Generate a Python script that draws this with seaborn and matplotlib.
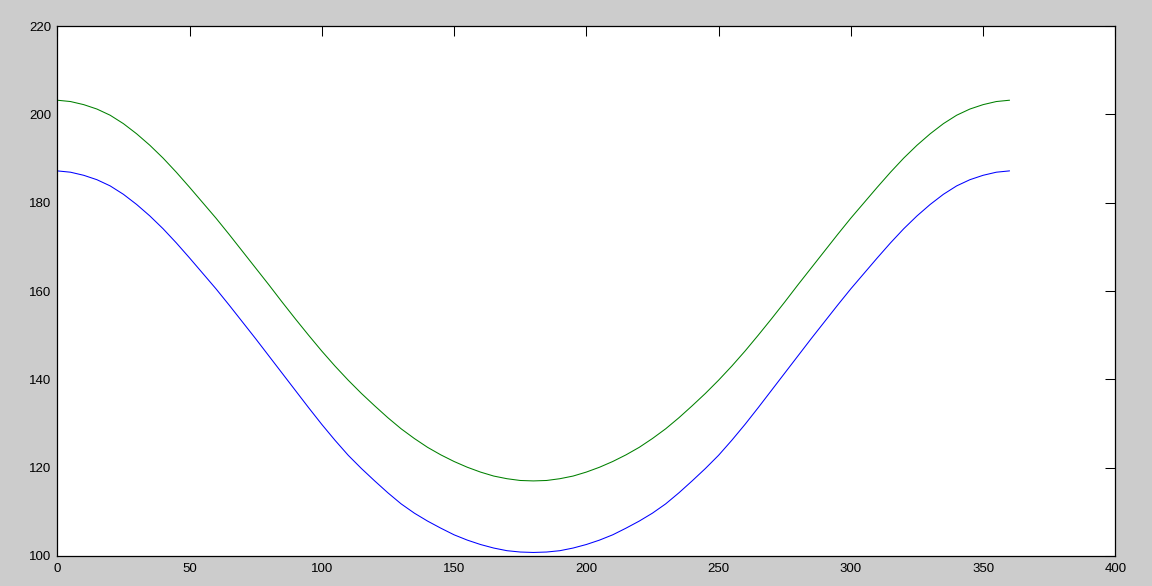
import numpy as np
import matplotlib
matplotlib.use("Agg")
import matplotlib.pyplot as plt
import seaborn as sns
import pandas as pd

# angulos (grados) y valores
angulos = list(range(0, 361, 5))
azul = [187.2, 186.9, 186.2, 185.2, 183.8, 181.9, 179.6, 177.0, 174.1, 170.9,
        167.5, 164.0, 160.5, 156.8, 153.0, 149.2, 145.3, 141.4, 137.5, 133.6,
        129.8, 126.2, 122.8, 119.8, 117.0, 114.3, 111.8, 109.7, 107.9, 106.3,
        104.8, 103.6, 102.6, 101.8, 101.2, 100.9, 100.8,
        100.9, 101.2, 101.8, 102.6, 103.6, 104.8, 106.3, 107.9, 109.7, 111.8,
        114.3, 117.0, 119.8, 122.8, 126.2, 129.8, 133.6, 137.5, 141.4, 145.3,
        149.2, 153.0, 156.8, 160.5, 164.0, 167.5, 170.9, 174.1, 177.0, 179.6,
        181.9, 183.8, 185.2, 186.2, 186.9, 187.2]
verde = [203.2, 202.9, 202.2, 201.2, 199.8, 197.9, 195.6, 193.0, 190.1, 186.9,
         183.5, 180.0, 176.5, 172.8, 169.0, 165.2, 161.4, 157.5, 153.7, 150.0,
         146.4, 143.0, 139.8, 136.8, 134.0, 131.3, 128.8, 126.6, 124.6, 122.9,
         121.4, 120.1, 119.0, 118.1, 117.5, 117.1, 117.0,
         117.1, 117.5, 118.1, 119.0, 120.1, 121.4, 122.9, 124.6, 126.6, 128.8,
         131.3, 134.0, 136.8, 139.8, 143.0, 146.4, 150.0, 153.7, 157.5, 161.4,
         165.2, 169.0, 172.8, 176.5, 180.0, 183.5, 186.9, 190.1, 193.0, 195.6,
         197.9, 199.8, 201.2, 202.2, 202.9, 203.2]

xticks = [0, 50, 100, 150, 200, 250, 300, 350, 400]
yticks = [100, 120, 140, 160, 180, 200, 220]

df = pd.DataFrame({"angulo": angulos, "azul": azul, "verde": verde})

sns.set_style("white")
plt.rcParams["font.family"] = ["Liberation Sans", "DejaVu Sans"]

fig = plt.figure(figsize=(11.52, 5.86), dpi=100, facecolor="#cccccc")
ax = fig.add_axes([0.0497, 0.0512, 0.9185, 0.9044])
ax.set_facecolor("white")

sns.lineplot(data=df, x="angulo", y="azul", color=(0, 0, 1), linewidth=0.75, ax=ax)
sns.lineplot(data=df, x="angulo", y="verde", color=(0, 0.5, 0), linewidth=0.75, ax=ax)

ax.set_xlim(0, 400)
ax.set_ylim(100, 220)
ax.set_xticks(xticks)
ax.set_yticks(yticks)
ax.set_xlabel("")
ax.set_ylabel("")
ax.tick_params(direction="in", length=7.2, width=0.75, colors="black",
               labelsize=9.5, top=True, right=True, pad=4)
ax.tick_params(axis="x", pad=5)
for s in ax.spines.values():
    s.set_color("black")
    s.set_linewidth(0.9)
    s.set_visible(True)

fig.savefig("out.png", dpi=100, facecolor=fig.get_facecolor())
